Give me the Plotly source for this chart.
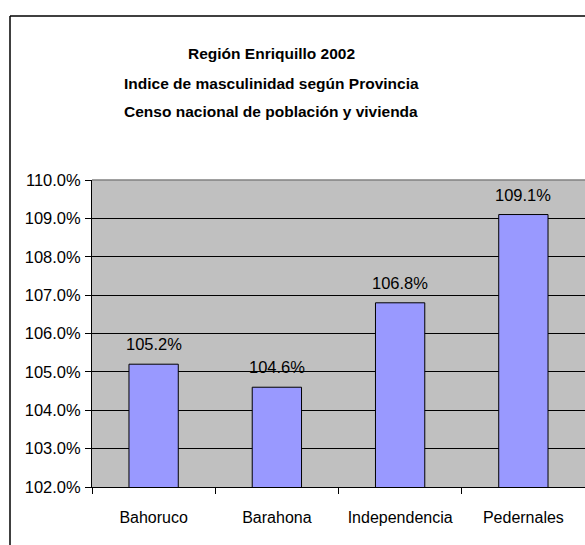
import plotly.graph_objects as go

categories = ["Bahoruco", "Barahona", "Independencia", "Pedernales"]
values = [105.2, 104.6, 106.8, 109.1]
value_labels = ["105.2%", "104.6%", "106.8%", "109.1%"]
title_lines = [
    "Región Enriquillo 2002",
    "Indice de masculinidad según Provincia",
    "Censo nacional de población y vivienda",
]

FONT = "Liberation Sans, Arial, sans-serif"

W, H = 585, 545
L, R, T, B = 92, 0, 180, 545 - 487
pw, ph = W - L - R, H - T - B

def px(x):
    return (x - L) / pw

def py(y):
    return (H - B - y) / ph

fig = go.Figure()
fig.add_trace(go.Bar(
    x=categories, y=values,
    marker=dict(color="#9999FF", line=dict(color="black", width=1)),
    hoverinfo="skip",
))

annotations = []
for c, v, t in zip(categories, values, value_labels):
    annotations.append(dict(x=c, y=v, xref="x", yref="y", text=t, showarrow=False,
                            yanchor="middle", yshift=20,
                            font=dict(family=FONT, size=16.5, color="black")))
for line, yy in zip(title_lines, [53, 83, 112]):
    annotations.append(dict(x=px(271), y=py(yy), xref="paper", yref="paper",
                            text="<b>" + line + "</b>", showarrow=False,
                            xanchor="center", yanchor="middle",
                            font=dict(family=FONT, size=15.5, color="black")))

shapes = [
    # outer chart border (left and top)
    dict(type="line", xref="paper", yref="paper", x0=px(10), x1=px(10), y0=py(560), y1=py(16),
         line=dict(color="black", width=1.5)),
    dict(type="line", xref="paper", yref="paper", x0=px(10), x1=1.05, y0=py(16), y1=py(16),
         line=dict(color="black", width=1.5)),
    # plot area top border (gray)
    dict(type="line", xref="paper", yref="paper", x0=0, x1=1.05, y0=1, y1=1,
         line=dict(color="#808080", width=1.5)),
]

fig.update_layout(
    width=W, height=H,
    margin=dict(l=L, r=R, t=T, b=B, pad=0),
    paper_bgcolor="white",
    plot_bgcolor="#C0C0C0",
    bargap=0.6,
    showlegend=False,
    annotations=annotations,
    shapes=shapes,
    font=dict(family=FONT, size=16, color="black"),
)
fig.update_yaxes(
    range=[102, 110], dtick=1, tick0=102, tickformat=".1f", ticksuffix="%",
    showgrid=True, gridcolor="black", gridwidth=1,
    showline=True, linecolor="black", linewidth=1,
    ticks="outside", ticklen=6, tickcolor="black", ticklabelstandoff=1,
    zeroline=False, fixedrange=True, automargin=False,
    tickfont=dict(family=FONT, size=16.5, color="black"),
)
fig.update_xaxes(
    showline=True, linecolor="black", linewidth=1,
    ticks="outside", ticklen=6, tickcolor="black", tickson="boundaries",
    ticklabelstandoff=16, tickangle=0,
    showgrid=False, fixedrange=True, automargin=False,
    tickfont=dict(family=FONT, size=16, color="black"),
)

fig.write_html(
    "out.html",
    config={"displayModeBar": False},
    post_script="document.body.style.margin='0';document.body.style.overflow='hidden';",
)
